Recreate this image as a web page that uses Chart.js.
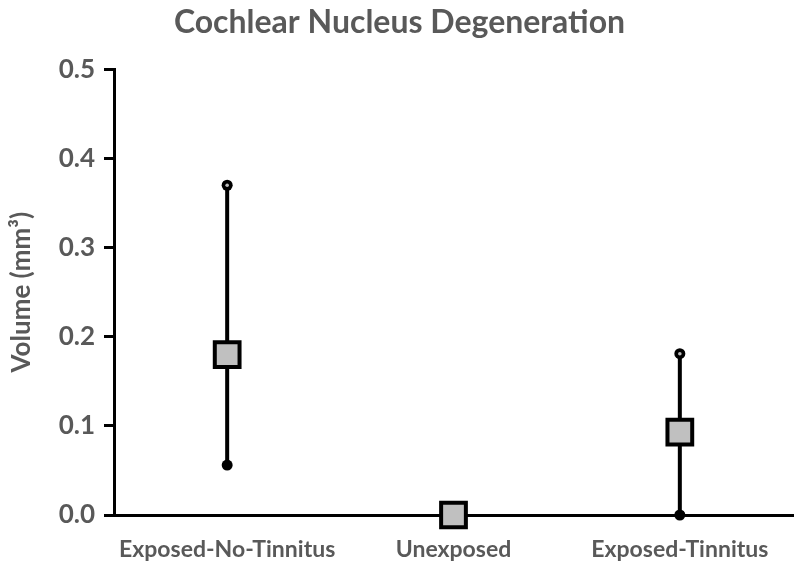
<!DOCTYPE html>
<html>
<head>
<meta charset="utf-8">
<script src="https://cdn.jsdelivr.net/npm/chart.js@4.4.1/dist/chart.umd.min.js"></script>
<style>
  html, body { margin: 0; padding: 0; background: #ffffff; }
  #wrap { width: 800px; height: 570px; }
</style>
</head>
<body>
<div id="wrap"><canvas id="c" width="800" height="570"></canvas></div>
<script>
const categories = ['Exposed-No-Tinnitus', 'Unexposed', 'Exposed-Tinnitus'];
const meanVolume = [0.180, 0.0, 0.093];
const errLow = [0.056, 0.0, 0.0];
const errHigh = [0.370, 0.0, 0.181];
const yTicks = [0.0, 0.1, 0.2, 0.3, 0.4, 0.5];

const FONT = "Lato, 'Open Sans', sans-serif";
const GREY = '#595959';

const errorBars = {
  id: 'errorBars',
  beforeDatasetsDraw(chart) {
    const ctx = chart.ctx;
    const x = chart.scales.x, y = chart.scales.y;
    ctx.save();
    categories.forEach((c, i) => {
      if (errHigh[i] === errLow[i]) return;
      const px = x.getPixelForValue(i);
      const top = y.getPixelForValue(errHigh[i]);
      const bot = y.getPixelForValue(errLow[i]);
      ctx.strokeStyle = '#000';
      ctx.lineWidth = 4;
      ctx.beginPath();
      ctx.moveTo(px, top);
      ctx.lineTo(px, bot);
      ctx.stroke();
      ctx.fillStyle = '#000';
      ctx.beginPath(); ctx.arc(px, top, 5.5, 0, Math.PI * 2); ctx.fill();
      ctx.fillStyle = '#bdbdbd';
      ctx.beginPath(); ctx.arc(px, top, 1.8, 0, Math.PI * 2); ctx.fill();
      ctx.fillStyle = '#000';
      ctx.beginPath(); ctx.arc(px, bot, 5.5, 0, Math.PI * 2); ctx.fill();
    });
    ctx.restore();
  }
};

new Chart(document.getElementById('c'), {
  type: 'line',
  data: {
    labels: categories,
    datasets: [{
      data: meanVolume,
      showLine: false,
      pointStyle: 'rect',
      pointRadius: 17.5,
      pointHoverRadius: 17.5,
      pointBackgroundColor: '#c0c0c0',
      pointBorderColor: '#000000',
      pointBorderWidth: 4,
      clip: false
    }]
  },
  options: {
    responsive: false,
    animation: false,
    events: [],
    layout: { autoPadding: false, padding: { left: 6, right: 7, top: 0, bottom: 0 } },
    plugins: {
      legend: { display: false },
      tooltip: { enabled: false },
      title: {
        display: true,
        text: 'Cochlear Nucleus Degeneration',
        color: GREY,
        font: { family: FONT, size: 32, weight: 'bold' },
        padding: { top: 3, bottom: 28 }
      }
    },
    scales: {
      x: {
        type: 'category',
        offset: true,
        grid: { display: false, drawTicks: false },
        border: { display: true, color: '#000', width: 3 },
        afterFit(scale) { scale.height = 55; },
        ticks: {
          color: GREY,
          font: { family: FONT, size: 23, weight: 'bold' },
          padding: 21,
          maxRotation: 0
        }
      },
      y: {
        min: 0,
        max: 0.5,
        afterBuildTicks(scale) { scale.ticks = yTicks.map(v => ({ value: v })); },
        afterFit(scale) { scale.width = 108; },
        grid: { drawOnChartArea: false, drawTicks: true, tickLength: 10, color: '#000', lineWidth: 3 },
        border: { display: true, color: '#000', width: 3 },
        ticks: {
          color: GREY,
          font: { family: FONT, size: 26, weight: 'bold' },
          padding: 9,
          callback: (v) => Number(v).toFixed(1)
        },
        title: {
          display: true,
          text: 'Volume (mm³)',
          color: GREY,
          font: { family: FONT, size: 26, weight: 'bold' },
          padding: { top: 0, bottom: 4 }
        }
      }
    }
  },
  plugins: [errorBars]
});
</script>
</body>
</html>
